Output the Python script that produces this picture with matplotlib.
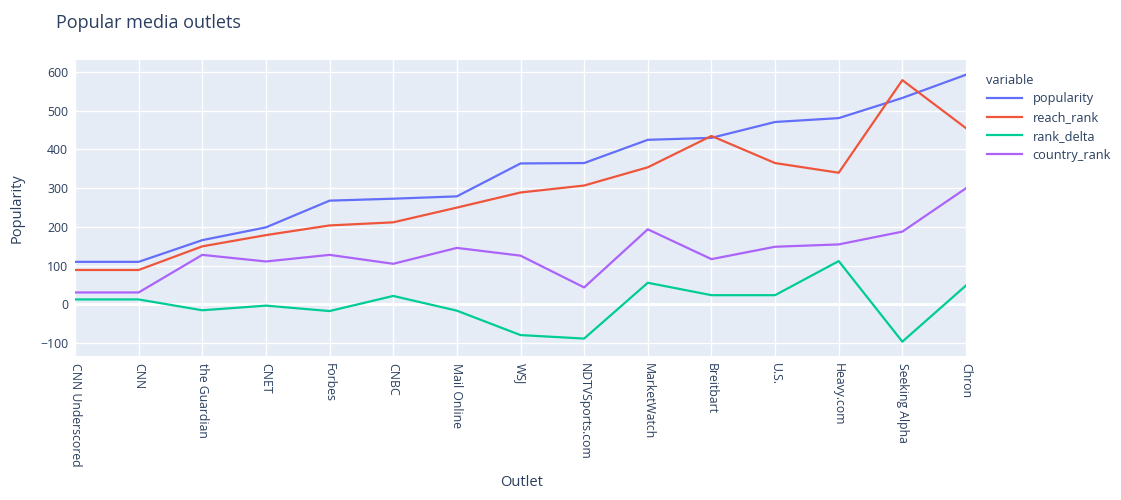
import matplotlib
matplotlib.use("Agg")
import numpy as np
from matplotlib import pyplot as plt

outlets = ["CNN Underscored", "CNN", "the Guardian", "CNET", "Forbes", "CNBC",
           "Mail Online", "WSJ", "NDTVSports.com", "MarketWatch", "Breitbart",
           "U.S.", "Heavy.com", "Seeking Alpha", "Chron"]

popularity = [110, 110, 166, 199, 268, 273, 279, 364, 365, 425, 430, 471, 481, 533, 593]
reach_rank = [89, 89, 150, 179, 204, 212, 250, 289, 307, 354, 435, 365, 340, 579, 455]
rank_delta = [13, 13, -15, -3, -17, 22, -16, -79, -88, 56, 24, 24, 112, -96, 49]
country_rank = [31, 31, 128, 111, 128, 105, 146, 126, 44, 194, 117, 149, 155, 188, 300]

series = [("popularity", popularity, "#636efa"),
          ("reach_rank", reach_rank, "#EF553B"),
          ("rank_delta", rank_delta, "#00cc96"),
          ("country_rank", country_rank, "#ab63fa")]

txt = "#2a3f5f"
plt.rcParams['font.family'] = ['Open Sans', 'DejaVu Sans']

fig = plt.figure(figsize=(11.21, 5.0), dpi=100)
ax = fig.add_axes([75 / 1121, 1 - 356 / 500, (966 - 75) / 1121, (356 - 60) / 500])
ax.set_facecolor("#E5ECF6")

x = np.arange(len(outlets))
for name, vals, col in series:
    ax.plot(x, vals, color=col, lw=1.6, label=name, solid_joinstyle="round", zorder=3)

ax.set_xlim(0, len(outlets) - 1)
ax.set_ylim(-133, 631)
ax.set_yticks([-100, 0, 100, 200, 300, 400, 500, 600])
ax.set_yticklabels(["\u2212100", "0", "100", "200", "300", "400", "500", "600"])
ax.set_xticks(x)
ax.set_xticklabels(outlets, rotation=270, ha="center", va="top")
ax.grid(True, color="white", lw=1, zorder=0)
ax.set_axisbelow(True)
ax.axhline(0, color="white", lw=2, zorder=1)
for s in ax.spines.values():
    s.set_visible(False)
ax.tick_params(length=0, colors=txt, labelsize=8.8, pad=5)

ax.set_ylabel("Popularity", color=txt, fontsize=10.5, labelpad=11)
fig.text(522 / 1121, 1 - 483 / 500, "Outlet", color=txt, fontsize=10.5, ha="center", va="center")
fig.text(56 / 1121, 1 - 23 / 500, "Popular media outlets", color=txt, fontsize=13, ha="left", va="center")

leg = fig.legend(loc="upper left", bbox_to_anchor=(975 / 1121, 1 - 62 / 500), frameon=False,
                 title="variable", fontsize=9.2, title_fontsize=9.2, handlelength=2.8,
                 labelspacing=0.45, alignment="left")
for t in leg.get_texts():
    t.set_color(txt)
leg.get_title().set_color(txt)

fig.savefig("out.png", dpi=100, facecolor="white")
